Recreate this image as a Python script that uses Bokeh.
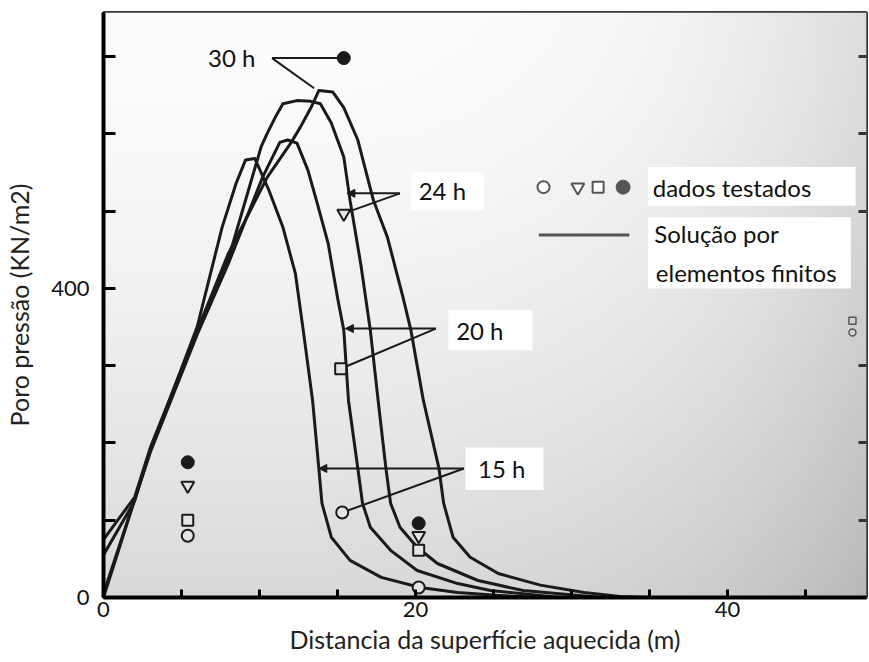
import numpy as np
from bokeh.plotting import figure
from bokeh.models import (Range1d, FixedTicker, LinearAxis, Label, BoxAnnotation,
                          Arrow, NormalHead)
from bokeh.embed import file_html
from bokeh.resources import INLINE

# ---------------- data ----------------
# finite element solution curves: distance (m) vs pore pressure (kN/m2)
dist_15h = [0, 3, 6, 7.6, 8.5, 9.1, 9.7, 10.6, 11.5, 12.3, 12.8, 13.4, 13.8, 14.0, 14.6, 15.8, 17.8, 20.3, 22.7, 25.4, 28]
pres_15h = [0, 190, 350, 479, 536, 566, 568, 527, 479, 419, 346, 255, 167, 122, 78, 48, 26, 13, 6.5, 2.6, 0]

dist_20h = [0, 3, 6, 8, 10.2, 11.3, 11.8, 12.4, 13.1, 13.7, 14.4, 15.0, 15.4, 15.7, 16.3, 16.6, 17.1, 18.4, 20.1, 22.7, 24.8, 29.3]
pres_20h = [5, 188, 340, 432, 544, 589, 592, 588, 553, 510, 458, 388, 346, 255, 167, 122, 91, 61, 35, 18, 9, 0]

dist_24h = [0, 2, 3, 6, 8, 10.1, 10.5, 11.0, 11.5, 12.4, 13.3, 13.9, 14.6, 15.4, 15.8, 16.5, 17.1, 17.6, 18.1, 18.4, 19.0, 20.1, 21.4, 24.0, 26.9, 31.9]
pres_24h = [55, 125, 192, 343, 438, 583, 601, 621, 639, 643, 642, 639, 614, 570, 514, 430, 346, 255, 167, 122, 91, 65, 44, 22, 9, 0]

dist_30h = [0, 2, 3, 6, 8, 10.5, 12.0, 12.6, 13.3, 13.8, 14.7, 15.4, 16.3, 17.3, 18.2, 19.2, 19.7, 20.5, 21.5, 21.8, 22.4, 23.5, 25.3, 28.0, 30.8, 33.1, 35]
pres_30h = [75, 130, 194, 345, 445, 544, 588, 608, 634, 656, 654, 634, 592, 514, 466, 388, 346, 255, 167, 122, 78, 52, 31, 16, 6.5, 1.3, 0]

# tested data
test_x_15h = [5.4, 15.3, 20.2, 48.0]
test_y_15h = [80, 110, 13, 343]
test_x_20h = [5.4, 15.2, 20.2, 48.0]
test_y_20h = [100, 296, 61, 358]
test_x_24h = [5.4, 15.4, 20.2]
test_y_24h = [145, 497, 80]
test_x_30h = [5.4, 15.4, 20.2]
test_y_30h = [175, 698, 96]

# curve labels and their leader lines
hour_labels = ["30 h", "24 h", "20 h", "15 h"]
anchor_x = [10.8, 19.0, 21.3, 23.1]
anchor_y = [698, 523, 348, 167]
horiz_end_x = [15.4, 15.6, 15.5, 13.8]
diag_end_x = [13.5, 15.4, 15.2, 15.3]
diag_end_y = [659, 497, 296, 110]

x_ticks = [0, 20, 40]
x_minor = [5, 10, 15, 25, 30, 35, 45]
y_ticks = [0, 400]
y_minor = [100, 200, 300, 500, 600, 700]

XMAX, YMAX = 48.9, 757
FONT = "Lato"
INK = "#1a1a1a"

p = figure(width=868, height=662, output_backend="svg", toolbar_location=None,
           x_range=Range1d(0, XMAX), y_range=Range1d(0, YMAX),
           min_border_left=103, min_border_right=2, min_border_top=12, min_border_bottom=65)
p.background_fill_color = "#e6e6e6"
p.border_fill_color = "white"
p.outline_line_color = "#3a3a3a"
p.outline_line_width = 3
p.grid.visible = False

# scanned-paper like background shading
H, W = 120, 120
v = np.linspace(0, 1, H)[:, None]
u = np.linspace(0, 1, W)[None, :]
g = 253 - 36 * (1 - v) ** 1.5 - 32 * u ** 4
g = np.clip(g, 0, 255).astype(np.uint32)
img = (255 << 24) | (g << 16) | (g << 8) | g
p.image_rgba(image=[img.astype(np.uint32)], x=0, y=0, dw=XMAX, dh=YMAX, level="image")

# white boxes behind texts
for (l, r, b, t) in [(34.9, 48.2, 507, 557), (34.9, 47.9, 400, 492),
                     (23.2, 28.2, 139, 194), (22.1, 27.5, 320, 372), (19.7, 24.4, 501, 550)]:
    p.add_layout(BoxAnnotation(left=l, right=r, bottom=b, top=t, fill_color="white",
                               fill_alpha=1, line_color=None, level="underlay"))

# curves
for dx, dy in [(dist_15h, pres_15h), (dist_20h, pres_20h), (dist_24h, pres_24h), (dist_30h, pres_30h)]:
    p.line(dx, dy, line_color=INK, line_width=3, line_join="round")

# leader lines
for i in range(len(hour_labels)):
    if i == 0:
        p.segment(x0=[anchor_x[i]], y0=[anchor_y[i]], x1=[horiz_end_x[i]], y1=[anchor_y[i]],
                  line_color=INK, line_width=2)
    else:
        p.add_layout(Arrow(end=NormalHead(size=8, fill_color=INK, line_color=INK),
                           x_start=anchor_x[i], y_start=anchor_y[i],
                           x_end=horiz_end_x[i], y_end=anchor_y[i],
                           line_color=INK, line_width=2))
    p.segment(x0=[anchor_x[i]], y0=[anchor_y[i]], x1=[diag_end_x[i]], y1=[diag_end_y[i]],
              line_color=INK, line_width=2)

# tested data markers (main) and faint ones near the right edge
p.scatter(test_x_15h[:3], test_y_15h[:3], marker="circle", size=12, line_color=INK, line_width=2, fill_color="#e4e4e4")
p.scatter(test_x_20h[:3], test_y_20h[:3], marker="square", size=11, line_color=INK, line_width=2, fill_color="#e4e4e4")
p.scatter(test_x_24h, test_y_24h, marker="inverted_triangle", size=13, line_color=INK, line_width=2, fill_color="#e4e4e4")
p.scatter(test_x_30h, test_y_30h, marker="circle", size=13, line_color=INK, line_width=1, fill_color=INK)
p.scatter(test_x_15h[3:], test_y_15h[3:], marker="circle", size=7, line_color="#555", line_width=1.5, fill_color=None)
p.scatter(test_x_20h[3:], test_y_20h[3:], marker="square", size=7, line_color="#555", line_width=1.5, fill_color=None)

# legend (hand drawn as in the original)
leg_y = 531
p.scatter([28.2], [leg_y], marker="circle", size=12, line_color="#555", line_width=2, fill_color="white")
p.scatter([30.4], [leg_y], marker="inverted_triangle", size=13, line_color="#555", line_width=2, fill_color="white")
p.scatter([31.7], [leg_y], marker="square", size=11, line_color="#555", line_width=2, fill_color="white")
p.scatter([33.3], [leg_y], marker="circle", size=14, line_color="#555", fill_color="#555")
p.line([27.9, 33.7], [469, 469], line_color="#555", line_width=3)

def txt(x, y, s, align="left"):
    p.add_layout(Label(x=x, y=y, text=s, text_font=FONT, text_font_size="24px",
                       text_color="#111", text_align=align, text_baseline="middle"))

txt(35.2, 531, "dados testados")
txt(35.3, 471, "Solução por")
txt(35.4, 421, "elementos finitos")
txt(9.74, 699, "30 h", "right")
txt(20.2, 527, "24 h")
txt(22.6, 346, "20 h")
txt(24.0, 167, "15 h")

# axes
xa = p.xaxis[0]
xa.ticker = FixedTicker(ticks=x_ticks, minor_ticks=x_minor)
xa.axis_label = "Distancia da superfície aquecida (m)"
ya = p.yaxis[0]
ya.ticker = FixedTicker(ticks=y_ticks, minor_ticks=y_minor)
ya.axis_label = "Poro pressão (KN/m2)"
for ax in (xa, ya):
    ax.axis_line_color = "black"
    ax.axis_line_width = 4
    ax.major_tick_in = 12
    ax.major_tick_out = 0
    ax.minor_tick_in = 12
    ax.minor_tick_out = 0
    ax.major_tick_line_width = 3
    ax.minor_tick_line_width = 3
    ax.major_tick_line_color = "black"
    ax.minor_tick_line_color = "black"
    ax.major_label_text_font = FONT
    ax.major_label_text_font_size = "22px"
    ax.major_label_text_color = "#111"
    ax.axis_label_text_font = FONT
    ax.axis_label_text_font_size = "25px"
    ax.axis_label_text_font_style = "normal"
    ax.axis_label_text_color = "#222"
xa.major_label_standoff = 4
xa.axis_label_standoff = 4
xa.major_tick_in = 8
xa.minor_tick_in = 8
ya.major_label_standoff = 14
ya.axis_label_standoff = 14

ra = LinearAxis(ticker=FixedTicker(ticks=[], minor_ticks=y_minor))
ra.axis_line_color = None
ra.major_label_text_color = None
ra.minor_tick_in = 8
ra.minor_tick_out = 0
ra.minor_tick_line_width = 3
ra.minor_tick_line_color = "#333"
p.add_layout(ra, "right")

open("out.html", "w").write(file_html(p, INLINE))
